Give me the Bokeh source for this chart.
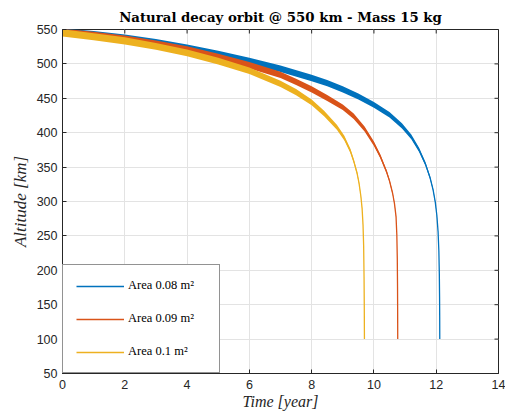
import numpy as np
from bokeh.plotting import figure
from bokeh.models import Range1d, Legend, LegendItem, FixedTicker
from bokeh.embed import file_html
from bokeh.resources import INLINE

# ---- data ----
t_a008 = [0, 1, 2, 3, 4, 5, 6, 7, 8, 8.5, 9, 9.5, 10, 10.5, 10.9, 11.2, 11.45, 11.65, 11.8,
          11.9, 11.97, 12.02, 12.06, 12.085, 12.1, 12.108, 12.112, 12.114]
alt_a008 = [546.5, 542.5, 537.5, 531, 523, 514, 504, 493, 479.5, 472, 463, 452.5, 440.5, 426, 410,
            394, 375, 355, 335, 317, 299, 280, 256, 228, 195, 160, 130, 100]

t_a009 = [0, 1, 2, 3, 4, 5, 6, 7, 7.5, 8, 8.5, 9, 9.35, 9.7, 10, 10.2, 10.4, 10.5, 10.6,
          10.66, 10.71, 10.735, 10.75, 10.758, 10.762, 10.764]
alt_a009 = [546, 541.5, 536, 529, 520.5, 510, 498, 484, 474, 463, 450.5, 437, 424, 405.5, 384,
            366, 344, 330, 312, 297, 278, 252, 218, 175, 135, 100]

t_a010 = [0, 1, 2, 3, 4, 5, 6, 7, 7.5, 8, 8.4, 8.81, 9.05, 9.24, 9.35, 9.46, 9.52, 9.58,
          9.62, 9.65, 9.67, 9.683, 9.69, 9.693, 9.695]
alt_a010 = [545, 539.5, 533.5, 525.5, 516, 504, 490, 471, 459, 444, 428, 408, 392, 374, 359,
            341, 327, 308, 290, 266, 235, 190, 150, 120, 100]

# half amplitude of the altitude oscillation (band) vs altitude
osc_alt = [100, 250, 300, 350, 400, 450, 500, 550]
osc_half = [0.2, 0.6, 1.5, 2.6, 3.6, 4.3, 4.8, 5.3]

labels = ["Area 0.08 m²", "Area 0.09 m²", "Area 0.1 m²"]
colors = ["#0072BD", "#D95319", "#EDB120"]
x_ticks = [0, 2, 4, 6, 8, 10, 12, 14]
y_ticks = [50, 100, 150, 200, 250, 300, 350, 400, 450, 500, 550]
x_lim = (0, 14)
y_lim = (50, 550)

series = [(t_a008, alt_a008), (t_a009, alt_a009), (t_a010, alt_a010)]

p = figure(width=505, height=412, x_range=Range1d(*x_lim), y_range=Range1d(*y_lim),
           output_backend="svg", toolbar_location=None,
           min_border_left=62, min_border_right=7, min_border_top=29, min_border_bottom=39,
           title="Natural decay orbit @ 550 km - Mass 15 kg")
p.background_fill_color = "white"
p.border_fill_color = "white"
p.outline_line_color = "#262626"
p.outline_line_width = 1

p.title.text_font = "DejaVu Serif"
p.title.text_font_style = "bold"
p.title.text_font_size = "13.3px"
p.title.text_color = "#000000"
p.title.align = "center"
p.title.standoff = 9

for ax in (p.xaxis[0], p.yaxis[0]):
    ax.major_label_text_font = "Liberation Sans"
    ax.major_label_text_font_size = "12.5px"
    ax.major_label_text_color = "#262626"
    ax.axis_line_color = "#262626"
    ax.major_tick_in = 4
    ax.major_tick_out = 0
    ax.minor_tick_in = 0
    ax.minor_tick_out = 0
    ax.major_tick_line_color = "#262626"
    ax.axis_label_text_font = "Liberation Serif"
    ax.axis_label_text_font_style = "italic"
    ax.axis_label_text_font_size = "16px"
    ax.axis_label_text_color = "#262626"
p.xaxis[0].ticker = FixedTicker(ticks=x_ticks)
p.yaxis[0].ticker = FixedTicker(ticks=y_ticks)
p.xaxis[0].axis_label = "Time [year]"
p.yaxis[0].axis_label = "Altitude [km]"
p.yaxis[0].axis_label_text_font_size = "17px"
p.xaxis[0].major_label_standoff = 6
p.xaxis[0].axis_label_standoff = 1
p.yaxis[0].major_label_standoff = 5
p.yaxis[0].axis_label_standoff = 4

p.xgrid.ticker = FixedTicker(ticks=x_ticks)
p.ygrid.ticker = FixedTicker(ticks=y_ticks)
p.xgrid.grid_line_color = "#e3e3e3"
p.ygrid.grid_line_color = "#e3e3e3"

# inward ticks on the top and right edges of the box (half of each dash is clipped away)
p.scatter(x=x_ticks, y=[y_lim[1]] * len(x_ticks), marker="dash", size=8, angle=np.pi / 2,
          line_color="#262626", line_width=1)
p.scatter(x=[x_lim[1]] * len(y_ticks), y=y_ticks, marker="dash", size=8,
          line_color="#262626", line_width=1)

items = []
for (t, alt), c, lab in zip(series, colors, labels):
    t = np.array(t, dtype=float)
    alt = np.array(alt, dtype=float)
    half = np.interp(alt, osc_alt, osc_half)
    p.varea(x=t, y1=alt - half, y2=alt + half, fill_color=c, fill_alpha=1.0)
    r = p.line(t, alt, line_color=c, line_width=1.3)
    items.append(LegendItem(label=lab, renderers=[r]))

legend = Legend(items=items, location="bottom_left")
legend.margin = 0
legend.padding = 13
legend.spacing = 18
legend.glyph_width = 48
legend.glyph_height = 14
legend.label_height = 14
legend.label_standoff = 4
legend.label_width = 78
legend.label_text_font = "Liberation Serif"
legend.label_text_font_size = "12.5px"
legend.label_text_color = "#000000"
legend.border_line_color = "#262626"
legend.border_line_width = 1
legend.background_fill_color = "white"
legend.background_fill_alpha = 1.0
p.add_layout(legend)

open("out.html", "w").write(file_html(p, INLINE))
